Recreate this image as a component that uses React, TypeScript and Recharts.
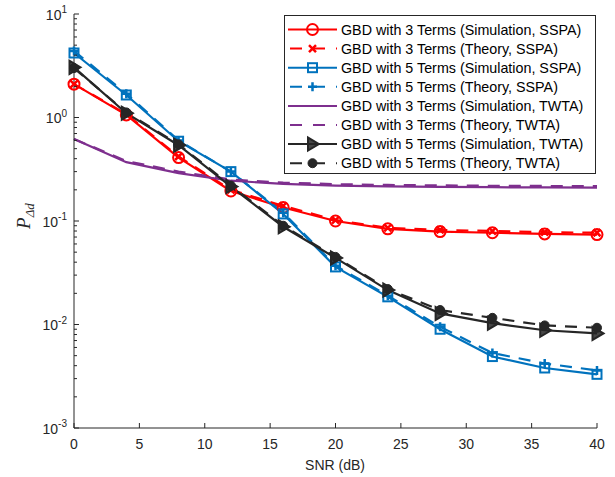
import React from 'react';
import { LineChart, Line, XAxis, YAxis, Legend } from 'recharts';

const snr = [0, 4, 8, 12, 16, 20, 24, 28, 32, 36, 40];
const gbd3SimSSPA = [2.1, 1.06, 0.41, 0.195, 0.135, 0.1, 0.084, 0.079, 0.077, 0.075, 0.074];
const gbd3TheorySSPA = [2.1, 1.08, 0.42, 0.2, 0.14, 0.102, 0.086, 0.082, 0.08, 0.078, 0.077];
const gbd5SimSSPA = [4.2, 1.65, 0.59, 0.3, 0.117, 0.036, 0.0185, 0.009, 0.0049, 0.0038, 0.0033];
const gbd5TheorySSPA = [4.4, 1.7, 0.6, 0.3, 0.12, 0.037, 0.019, 0.0095, 0.0053, 0.0042, 0.0036];
const gbd3SimTWTA = [0.62, 0.37, 0.29, 0.245, 0.228, 0.22, 0.216, 0.214, 0.212, 0.211, 0.21];
const gbd3TheoryTWTA = [0.62, 0.38, 0.3, 0.252, 0.235, 0.227, 0.223, 0.221, 0.219, 0.218, 0.217];
const gbd5SimTWTA = [3.05, 1.1, 0.54, 0.215, 0.088, 0.044, 0.0215, 0.0128, 0.0103, 0.0088, 0.0082];
const gbd5TheoryTWTA = [3.0, 1.12, 0.55, 0.22, 0.09, 0.045, 0.022, 0.0138, 0.0116, 0.0098, 0.0093];

const xTicks = [0, 5, 10, 15, 20, 25, 30, 35, 40];
const yMajor = [0.001, 0.01, 0.1, 1, 10];
const yMinorMult = [2, 3, 4, 5, 6, 7, 8, 9];
const yTickLabels = ['-3', '-2', '-1', '0', '1'];

const legendLabels = [
  'GBD with 3 Terms (Simulation, SSPA)',
  'GBD with 3 Terms (Theory, SSPA)',
  'GBD with 5 Terms (Simulation, SSPA)',
  'GBD with 5 Terms (Theory, SSPA)',
  'GBD with 3 Terms (Simulation, TWTA)',
  'GBD with 3 Terms (Theory, TWTA)',
  'GBD with 5 Terms (Simulation, TWTA)',
  'GBD with 5 Terms (Theory, TWTA)',
];

const RED = '#FF0000';
const BLUE = '#0072BD';
const PURPLE = '#7E2F8E';
const BLACK = '#262626';
const AX = '#262626';
const FONT = '"Liberation Sans", Arial, Helvetica, sans-serif';
const DASH = '12 9';

const data = snr.map((s, i) => ({
  snr: s,
  a: gbd3SimSSPA[i],
  b: gbd3TheorySSPA[i],
  c: gbd5SimSSPA[i],
  d: gbd5TheorySSPA[i],
  e: gbd3SimTWTA[i],
  f: gbd3TheoryTWTA[i],
  g: gbd5SimTWTA[i],
  h: gbd5TheoryTWTA[i],
}));

const yTicksAll: number[] = [];
yMajor.forEach((m, i) => {
  yTicksAll.push(m);
  if (i < yMajor.length - 1) yMinorMult.forEach((k) => yTicksAll.push(+(m * k).toPrecision(3)));
});

type MK = 'circle' | 'x' | 'square' | 'plus' | 'none' | 'tri' | 'dot';

const marker = (kind: MK, cx: number, cy: number, color: string, key?: any) => {
  switch (kind) {
    case 'circle':
      return <circle key={key} cx={cx} cy={cy} r={5.5} fill="none" stroke={color} strokeWidth={2} />;
    case 'x':
      return (
        <path key={key} d={`M${cx - 3.5},${cy - 3.5}L${cx + 3.5},${cy + 3.5}M${cx - 3.5},${cy + 3.5}L${cx + 3.5},${cy - 3.5}`} stroke={color} strokeWidth={2.5} fill="none" />
      );
    case 'square':
      return <rect key={key} x={cx - 4.5} y={cy - 4.5} width={9} height={9} fill="none" stroke={color} strokeWidth={2} />;
    case 'plus':
      return (
        <path key={key} d={`M${cx - 4.5},${cy}L${cx + 4.5},${cy}M${cx},${cy - 4.5}L${cx},${cy + 4.5}`} stroke={color} strokeWidth={2.5} fill="none" />
      );
    case 'tri':
      return (
        <path key={key} d={`M${cx + 6.5},${cy}L${cx - 4.5},${cy - 6.5}L${cx - 4.5},${cy + 6.5}Z`} fill={color} fillOpacity={0.85} stroke={color} strokeWidth={2} strokeLinejoin="miter" />
      );
    case 'dot':
      return <circle key={key} cx={cx} cy={cy} r={4.5} fill={color} stroke={color} strokeWidth={1} />;
    default:
      return <g key={key} />;
  }
};

const dotFn = (kind: MK, color: string) => (p: any) => {
  if (p.cx == null || p.cy == null) return <g key={p.index} />;
  return marker(kind, p.cx, p.cy, color, `${kind}-${p.index}`);
};

const series: { key: string; color: string; dash?: string; mk: MK }[] = [
  { key: 'a', color: RED, mk: 'circle' },
  { key: 'b', color: RED, dash: DASH, mk: 'x' },
  { key: 'c', color: BLUE, mk: 'square' },
  { key: 'd', color: BLUE, dash: DASH, mk: 'plus' },
  { key: 'e', color: PURPLE, mk: 'none' },
  { key: 'f', color: PURPLE, dash: DASH, mk: 'none' },
  { key: 'g', color: BLACK, mk: 'tri' },
  { key: 'h', color: BLACK, dash: DASH, mk: 'dot' },
];

const isMajor = (v: number) => Math.abs(Math.log10(v) - Math.round(Math.log10(v))) < 1e-6;

const LeftTick = (p: any) => {
  const v = p.payload.value;
  const major = isMajor(v);
  const len = major ? 5 : 3;
  const idx = yMajor.findIndex((m) => Math.abs(m - v) < 1e-9);
  return (
    <g>
      <line x1={p.x} y1={p.y} x2={p.x + len} y2={p.y} stroke={AX} strokeWidth={1} />
      {major && (
        <text x={p.x - 7} y={p.y + 5.5} textAnchor="end" fontFamily={FONT} fontSize={14} fill={AX}>
          10
          <tspan fontSize={10} dy={-6.5}>{yTickLabels[idx]}</tspan>
        </text>
      )}
    </g>
  );
};

const RightTick = (p: any) => {
  const v = p.payload.value;
  const len = isMajor(v) ? 5 : 3;
  return <line x1={p.x} y1={p.y} x2={p.x - len} y2={p.y} stroke={AX} strokeWidth={1} />;
};

const BottomTick = (p: any) => (
  <g>
    <line x1={p.x} y1={p.y} x2={p.x} y2={p.y - 5} stroke={AX} strokeWidth={1} />
    <text x={p.x} y={p.y + 20.5} textAnchor="middle" fontFamily={FONT} fontSize={14} fill={AX}>
      {p.payload.value}
    </text>
  </g>
);

const TopTick = (p: any) => <line x1={p.x} y1={p.y} x2={p.x} y2={p.y + 5} stroke={AX} strokeWidth={1} />;

const LegendBox = () => {
  const w = 312;
  const h = 159;
  return (
    <svg width={w} height={h} style={{ display: 'block' }}>
      <rect x={0.5} y={0.5} width={w - 1} height={h - 1} fill="#fff" stroke={AX} strokeWidth={1} />
      {series.map((s, i) => {
        const y = 14.5 + i * 19.1;
        return (
          <g key={s.key}>
            <line x1={4} y1={y} x2={53} y2={y} stroke={s.color} strokeWidth={2} strokeDasharray={s.dash ? '12 11' : undefined} strokeDashoffset={s.dash ? -2 : 0} />
            {marker(s.mk, 28.5, y, s.color)}
            <text x={57} y={y + 5} fontFamily={FONT} fontSize={14.3} fill="#000">
              {legendLabels[i]}
            </text>
          </g>
        );
      })}
    </svg>
  );
};

export default function App() {
  return (
    <div style={{ position: 'absolute', left: 0, top: 0, width: 615, height: 477, background: '#fff' }}>
      <LineChart width={615} height={477} data={data} margin={{ top: 14, right: 18, bottom: 19, left: 0 }}>
        <XAxis
          dataKey="snr"
          type="number"
          domain={[0, 40]}
          ticks={xTicks}
          interval={0}
          tickSize={0}
          tickMargin={0}
          height={30}
          stroke={AX}
          tick={BottomTick}
          tickLine={false}
          label={{
            content: () => (
              <text x={335} y={470} textAnchor="middle" fontFamily={FONT} fontSize={14} fill={AX}>
                SNR (dB)
              </text>
            ),
          }}
        />
        <XAxis xAxisId="t" orientation="top" type="number" domain={[0, 40]} ticks={xTicks} interval={0} tickSize={0} tickMargin={0} height={0} stroke={AX} tick={TopTick} tickLine={false} allowDataOverflow />
        <YAxis
          scale="log"
          type="number"
          domain={[0.001, 10]}
          allowDataOverflow
          ticks={yTicksAll}
          interval={0}
          tickSize={0}
          tickMargin={0}
          width={74}
          stroke={AX}
          tick={LeftTick}
          tickLine={false}
          label={{
            content: () => (
              <text transform="translate(30,216) rotate(-90)" textAnchor="middle" fontFamily='"Liberation Serif", "Times New Roman", serif' fontStyle="italic" fill={AX}>
                <tspan fontSize={19}>P</tspan>
                <tspan fontSize={13} dy={4}>Δd</tspan>
              </text>
            ),
          }}
        />
        <YAxis yAxisId="r" orientation="right" scale="log" type="number" domain={[0.001, 10]} allowDataOverflow ticks={yTicksAll} interval={0} tickSize={0} tickMargin={0} width={0} stroke={AX} tick={RightTick} tickLine={false} />
        {series.map((s) => (
          <Line
            key={s.key}
            dataKey={s.key}
            stroke={s.color}
            strokeWidth={2.2}
            strokeDasharray={s.dash}
            dot={s.mk === 'none' ? false : dotFn(s.mk, s.color)}
            activeDot={false}
            isAnimationActive={false}
            type="linear"
          />
        ))}
        <Legend
          layout="vertical"
          align="center"
          verticalAlign="middle"
          content={() => <LegendBox />}
          wrapperStyle={{ position: 'absolute', left: 284, top: 15, width: 312, height: 159, margin: 0, padding: 0 }}
        />
      </LineChart>
    </div>
  );
}
